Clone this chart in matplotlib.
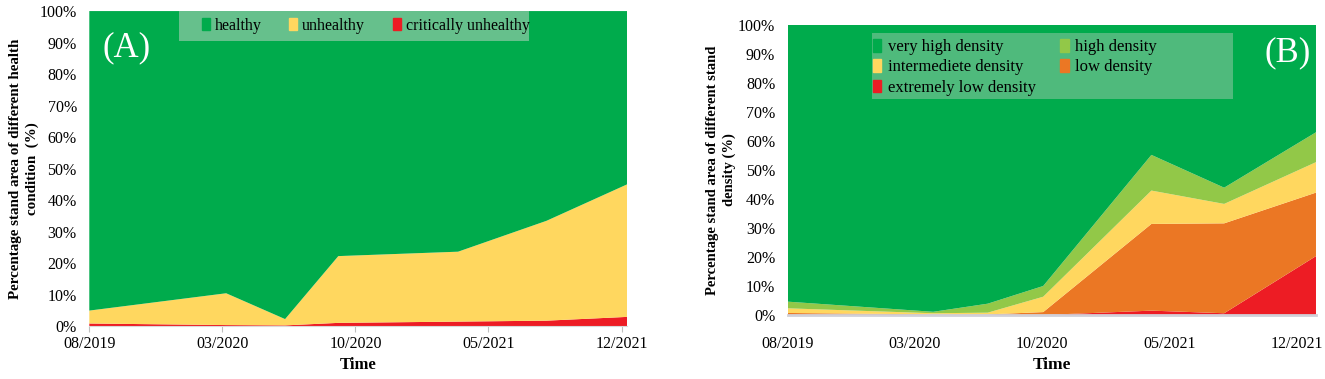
import matplotlib
matplotlib.use("Agg")
import matplotlib.pyplot as plt
from matplotlib.patches import Patch, Rectangle

plt.rcParams['font.family'] = ['Liberation Serif', 'DejaVu Serif']

# -----------------------------------------------------------------------------
# Data (months since 08/2019, percent of stand area)
# -----------------------------------------------------------------------------
tick_pos = [0, 7, 14, 21, 28]
tick_labels = ['08/2019', '03/2020', '10/2020', '05/2021', '12/2021']

# (A) health condition
months_a = [0, 7.2, 10.3, 13.1, 19.4, 24.05, 28.3]
critically_unhealthy = [0.8, 0.3, 0.2, 1.0, 1.4, 1.7, 2.9]
unhealthy = [4.1, 10.1, 2.0, 21.2, 22.2, 31.7, 42.1]
healthy = [95.1, 89.6, 97.8, 77.8, 76.4, 66.6, 55.0]

# (B) stand density
months_b = [0, 8.0, 11.0, 14.05, 20.0, 24.0, 29.05]
extremely_low = [0.0, 0.0, 0.0, 0.0, 1.5, 0.6, 20.3]
low_density = [0.7, 0.2, 0.2, 1.0, 29.9, 31.0, 21.9]
intermediate = [1.6, 0.4, 0.6, 5.3, 11.5, 6.7, 10.5]
high_density = [2.3, 0.5, 3.1, 3.7, 12.3, 5.6, 10.3]
very_high = [95.4, 98.9, 96.1, 90.0, 44.8, 56.1, 37.0]

GREEN = '#00AB4C'
LGREEN = '#92C848'
YELLOW = '#FFD75F'
ORANGE = '#EB7724'
RED = '#ED1C24'

fig = plt.figure(figsize=(13.25, 3.79), dpi=100)

# -----------------------------------------------------------------------------
# Panel A
# -----------------------------------------------------------------------------
ax = fig.add_axes([0.0674, 0.1398, 0.406, 0.831])
ax.stackplot(months_a, critically_unhealthy, unhealthy, healthy,
             colors=[RED, YELLOW, GREEN], linewidth=0)
ax.set_xlim(0, months_a[-1])
ax.set_ylim(0, 100)
ax.set_xticks(tick_pos)
ax.set_xticklabels(tick_labels, fontsize=11.5)
ax.set_yticks(range(0, 101, 10))
ax.set_yticklabels([f'{v}%' for v in range(0, 101, 10)], fontsize=11.5)
ax.tick_params(axis='y', length=0, pad=9)
ax.tick_params(axis='x', length=4, color='#BFBFBF', pad=3)
for s in ['top', 'right', 'left']:
    ax.spines[s].set_visible(False)
ax.spines['bottom'].set_color('#D9D9D9')
ax.set_xlabel('Time', fontsize=12, fontweight='bold', labelpad=4)
ax.set_ylabel('Percentage stand area of different health\ncondition  (%)',
              fontsize=10.8, fontweight='bold', linespacing=1.35)
ax.yaxis.set_label_coords(-0.0935, 0.5)

ax.add_patch(Rectangle((0.167, 0.905), 0.651, 0.095, transform=ax.transAxes,
                       facecolor='#66C08C', edgecolor='none', zorder=3))
handles_a = [Patch(color=GREEN), Patch(color=YELLOW), Patch(color=RED)]
ax.legend(handles_a, ['healthy', 'unhealthy', 'critically unhealthy'],
          ncol=3, loc='center left', bbox_to_anchor=(0.209, 0.953), frameon=False,
          fontsize=11.5, handlelength=0.5, handleheight=0.8, handletextpad=0.3,
          columnspacing=1.75, borderpad=0, borderaxespad=0)
ax.text(0.07, 0.883, '(A)', transform=ax.transAxes, color='white',
        fontsize=25, ha='center', va='center')

# -----------------------------------------------------------------------------
# Panel B
# -----------------------------------------------------------------------------
bx = fig.add_axes([0.5945, 0.1689, 0.3987, 0.7652])
bx.stackplot(months_b, extremely_low, low_density, intermediate, high_density, very_high,
             colors=[RED, ORANGE, YELLOW, LGREEN, GREEN], linewidth=0)
bx.set_xlim(0, months_b[-1])
bx.set_ylim(0, 100)
bx.set_xticks(tick_pos)
bx.set_xticklabels(tick_labels, fontsize=11.5)
bx.set_yticks(range(0, 101, 10))
bx.set_yticklabels([f'{v}%' for v in range(0, 101, 10)], fontsize=11.5)
bx.tick_params(axis='y', length=0, pad=9)
bx.tick_params(axis='x', length=0, pad=15)
for s in ['top', 'right', 'left']:
    bx.spines[s].set_visible(False)
bx.spines['bottom'].set_color('#D0D0D8')
bx.spines['bottom'].set_linewidth(2)
bx.set_xlabel('Time', fontsize=12.5, fontweight='bold', labelpad=4)
bx.set_ylabel('Percentage stand area of different stand\ndensity (%)',
              fontsize=10.5, fontweight='bold', linespacing=1.35)
bx.yaxis.set_label_coords(-0.098, 0.5)

bx.add_patch(Rectangle((0.159, 0.744), 0.683, 0.229, transform=bx.transAxes,
                       facecolor='#4FBA7C', edgecolor='none', zorder=3))
handles_b = [Patch(color=GREEN), Patch(color=YELLOW), Patch(color=RED),
             Patch(color=LGREEN), Patch(color=ORANGE)]
bx.legend(handles_b, ['very high density', 'intermediete density', 'extremely low density',
                      'high density', 'low density'],
          ncol=2, loc='upper left', bbox_to_anchor=(0.149, 0.975), frameon=False,
          fontsize=12, handlelength=0.5, handleheight=0.8, handletextpad=0.4,
          columnspacing=1.45, labelspacing=0.25, borderaxespad=0)
bx.text(0.947, 0.903, '(B)', transform=bx.transAxes, color='white',
        fontsize=25, ha='center', va='center')

fig.savefig('out.png', dpi=100)
